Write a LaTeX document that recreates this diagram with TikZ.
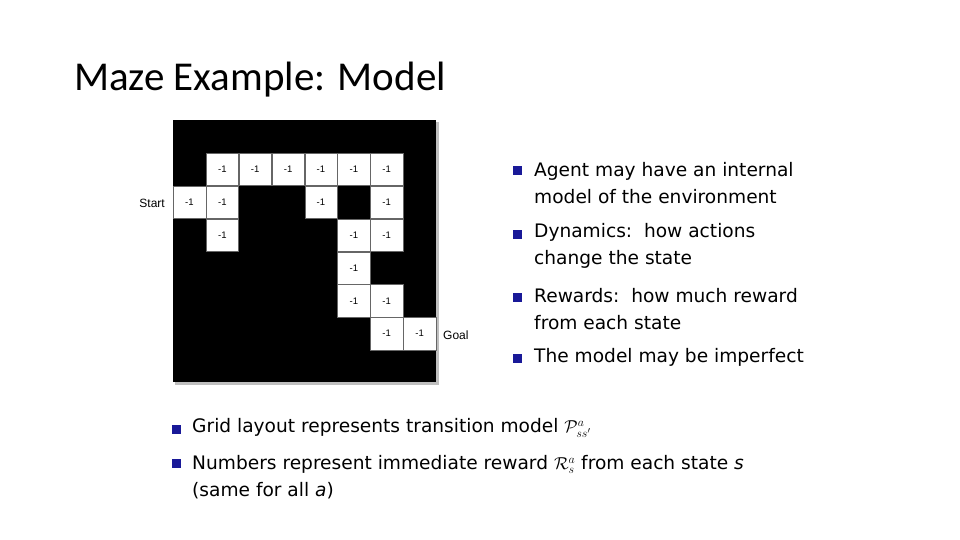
\documentclass[tikz,border=0pt]{standalone}
\usepackage{fontspec}
\setmainfont{DejaVu Sans}
\newfontfamily\titlefont{Carlito}
\newfontfamily\lblfont{Liberation Sans}
\begin{document}
\begin{tikzpicture}[x=1pt,y=-1pt,
  cell/.style={draw=black!60,line width=0.4pt,fill=white,minimum size=32.5pt,inner sep=0pt,anchor=north west,font=\lblfont\fontsize{9.5}{10}\selectfont},
  bul/.style={fill=blue!55!black!90,minimum size=9pt,inner sep=0pt},
  txt/.style={anchor=west,font=\fontsize{18.6}{27}\selectfont,inner sep=0pt,align=left},
  lbl/.style={font=\lblfont\fontsize{12}{13}\selectfont,inner sep=0pt}]
\useasboundingbox (0,0) rectangle (960,540);
\node[anchor=west,inner sep=0pt,font=\titlefont\fontsize{41}{44}\selectfont] (title) at (74,80) {Maze Example: Model};
\fill[black!25] (175,122) rectangle (439,385);
\fill[black] (173,120) rectangle (436,382);
\def\cw{32.875}
\foreach \c/\r [count=\i] in {1/1,2/1,3/1,4/1,5/1,6/1,0/2,1/2,4/2,6/2,1/3,5/3,6/3,5/4,5/5,6/5,6/6,7/6}{
  \node[cell] (c\i) at ({173+\c*\cw},{120+\r*\cw}) {-1};
}
\node[lbl,anchor=east] (start) at (165,203) {Start};
\node[lbl,anchor=west] (goal) at (443,335) {Goal};
\foreach \y/\t [count=\k] in {183/{Agent may have an internal\\model of the environment},246/{Dynamics:\ \ how actions\\change the state},309/{Rewards:\ \ how much reward\\from each state},357/{The model may be imperfect}}{
  \node[bul] (b\k) at (517,{\k==4 ? 358 : \y-12}) {};
  \node[txt] (t\k) at (534,\y) {\t};
}
\node[bul] (b5) at (176,429) {};
\node[txt] (t5) at (192,428) {Grid layout represents transition model $\mathcal{P}^a_{ss'}$};
\node[bul] (b6) at (176,463) {};
\node[txt] (t6) at (192,477) {Numbers represent immediate reward $\mathcal{R}^a_s$ from each state \textit{s}\\(same for all \textit{a})};
\end{tikzpicture}
\end{document}
